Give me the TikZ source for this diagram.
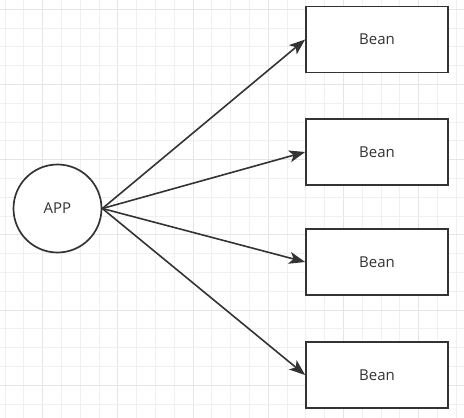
\documentclass[tikz,border=0pt]{standalone}
\usepackage{fontspec}
\setmainfont{Open Sans}
\usetikzlibrary{arrows.meta}
\definecolor{gridL}{HTML}{F0F0F0}
\definecolor{gridD}{HTML}{E5E5E5}
\definecolor{ink}{HTML}{333333}
\tikzset{
  gl/.style={draw=gridL, line width=1pt},
  gd/.style={draw=gridD, line width=1pt},
  beanbox/.style={draw=ink, line width=1.7pt, fill=white, minimum width=142pt, minimum height=66pt, inner sep=0pt, font=\fontsize{15}{17}\selectfont, text=ink},
  appnode/.style={circle, draw=ink, line width=1.7pt, fill=white, minimum size=88pt, inner sep=0pt, font=\fontsize{15}{17}\selectfont, text=ink},
  arr/.style={draw=ink, line width=1.6pt, -{Stealth[length=16pt,width=12pt,inset=4pt]}}
}
\begin{document}
\begin{tikzpicture}[x=1pt,y=-1pt]
\useasboundingbox (0,0) rectangle (464,418);
\fill[white] (0,0) rectangle (464,418);
\foreach \i in {0,...,24} {
  \pgfmathtruncatemacro\m{mod(\i,4)}
  \ifnum\m=2 \draw[gd] ({5+\i*18.8},0) -- ++(0,418); \else \draw[gl] ({5+\i*18.8},0) -- ++(0,418); \fi
}
\foreach \i in {0,...,22} {
  \pgfmathtruncatemacro\m{mod(\i,4)}
  \ifnum\m=0 \draw[gd] (0,{9.3+\i*18.8}) -- ++(464,0); \else \draw[gl] (0,{9.3+\i*18.8}) -- ++(464,0); \fi
}
\node[appnode] (app) at (57.5,208.5) {APP};
\node[beanbox] (b1) at (377,39.5) {Bean};
\node[beanbox] (b2) at (377,152) {Bean};
\node[beanbox] (b3) at (377,262) {Bean};
\node[beanbox] (b4) at (377,375) {Bean};
\foreach \b in {b1,b2,b3,b4} \draw[arr] (app.east) -- (\b.west);
\end{tikzpicture}
\end{document}
